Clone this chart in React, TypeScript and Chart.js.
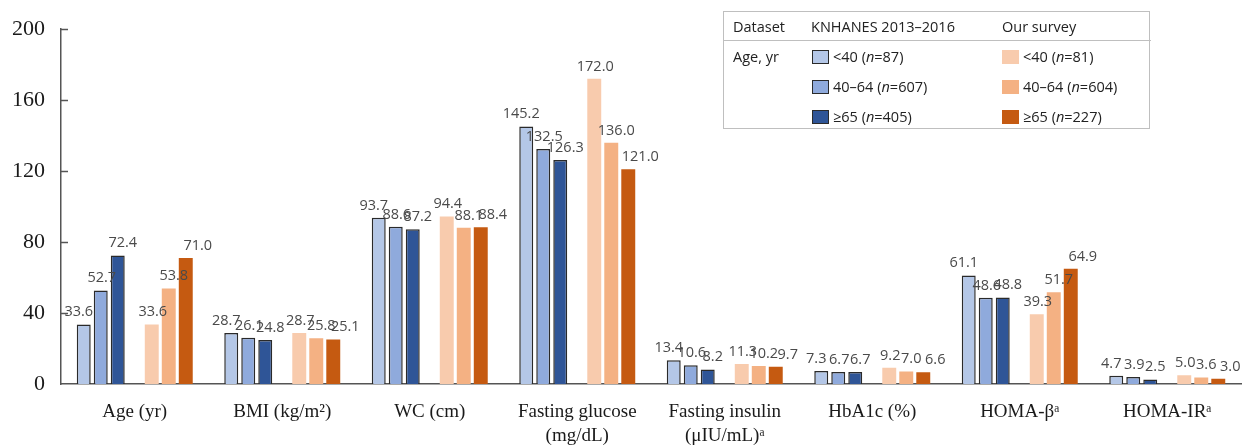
import React, { useEffect, useRef } from "react";
import { Chart, registerables } from "chart.js";

Chart.register(...registerables);

const categories: (string | string[])[] = [
  "Age (yr)",
  "BMI (kg/m²)",
  "WC (cm)",
  ["Fasting glucose", "(mg/dL)"],
  ["Fasting insulin", "(μIU/mL)ᵃ"],
  "HbA1c (%)",
  "HOMA-βᵃ",
  "HOMA-IRᵃ",
];

const knhanesUnder40 = [33.6, 28.7, 93.7, 145.2, 13.4, 7.3, 61.1, 4.7];
const knhanes40to64 = [52.7, 26.1, 88.6, 132.5, 10.6, 6.7, 48.6, 3.9];
const knhanes65plus = [72.4, 24.8, 87.2, 126.3, 8.2, 6.7, 48.8, 2.5];
const surveyUnder40 = [33.6, 28.7, 94.4, 172.0, 11.3, 9.2, 39.3, 5.0];
const survey40to64 = [53.8, 25.8, 88.1, 136.0, 10.2, 7.0, 51.7, 3.6];
const survey65plus = [71.0, 25.1, 88.4, 121.0, 9.7, 6.6, 64.9, 3.0];

const yTicks = [0, 40, 80, 120, 160, 200];

const blueColors = ["#B4C7E7", "#8FAADC", "#2F5597"];
const orangeColors = ["#F8CBAD", "#F4B183", "#C55A11"];

const knhanesLegend = [
  { range: "<40", n: "87" },
  { range: "40–64", n: "607" },
  { range: "≥65", n: "405" },
];
const surveyLegend = [
  { range: "<40", n: "81" },
  { range: "40–64", n: "604" },
  { range: "≥65", n: "227" },
];

const SANS = "'Open Sans', 'Noto Sans', sans-serif";
const SERIF = "'Liberation Serif', 'DejaVu Serif', serif";

const labelPlugin = {
  id: "barValueLabels",
  afterDatasetsDraw(chart: any) {
    const ctx = chart.ctx;
    ctx.save();
    ctx.font = `14.5px ${SANS}`;
    ctx.fillStyle = "#4a4a4a";
    ctx.textAlign = "center";
    ctx.textBaseline = "bottom";
    chart.data.datasets.forEach((ds: any, di: number) => {
      if (ds.spacer) return;
      const meta = chart.getDatasetMeta(di);
      const dx = ds.labelShift || 0;
      meta.data.forEach((el: any, i: number) => {
        const v = ds.data[i];
        if (v == null) return;
        ctx.fillText(Number(v).toFixed(1), el.x + dx, el.y - 5);
      });
    });
    ctx.restore();
  },
};

const innerTicksPlugin = {
  id: "innerTicks",
  afterDraw(chart: any) {
    const ctx = chart.ctx;
    const y = chart.scales.y;
    const left = chart.chartArea.left;
    ctx.save();
    ctx.strokeStyle = "#555555";
    ctx.lineWidth = 1.5;
    yTicks.forEach((t) => {
      if (t === 0) return;
      const py = Math.round(y.getPixelForValue(t)) + 0.5;
      ctx.beginPath();
      ctx.moveTo(left, py);
      ctx.lineTo(left + 7, py);
      ctx.stroke();
    });
    ctx.restore();
  },
};

export default function App() {
  const canvasRef = useRef<HTMLCanvasElement | null>(null);

  useEffect(() => {
    document.body.style.margin = "0";
    const canvas = canvasRef.current;
    if (!canvas) return;
    const mk = (data: (number | null)[], bg: string, blue: boolean, shift: number) => ({
      label: "",
      data,
      backgroundColor: bg,
      borderColor: blue ? "#2a2a2a" : bg,
      borderWidth: blue ? 1.5 : 0,
      categoryPercentage: 0.807,
      barPercentage: 0.82,
      labelShift: shift,
    });
    const chart = new Chart(canvas, {
      type: "bar",
      data: {
        labels: categories,
        datasets: [
          mk(knhanesUnder40, blueColors[0], true, -5),
          mk(knhanes40to64, blueColors[1], true, 1),
          mk(knhanes65plus, blueColors[2], true, 5),
          { ...mk(categories.map(() => null), "rgba(0,0,0,0)", false, 0), spacer: true } as any,
          mk(surveyUnder40, orangeColors[0], false, 1),
          mk(survey40to64, orangeColors[1], false, 5),
          mk(survey65plus, orangeColors[2], false, 12),
        ] as any,
      },
      options: {
        responsive: false,
        animation: false,
        layout: { padding: { top: 29, right: 1, left: 0, bottom: 0 } },
        plugins: {
          legend: { display: false },
          tooltip: { enabled: false },
          title: { display: false },
        },
        scales: {
          x: {
            grid: { display: false, drawTicks: false },
            border: { display: true, color: "#555555", width: 1.5 },
            ticks: {
              color: "#1a1a1a",
              font: { family: SERIF, size: 19, lineHeight: 1.25 },
              padding: 16,
              maxRotation: 0,
              autoSkip: false,
            },
            afterFit: (s: any) => {
              s.height = 62;
            },
          },
          y: {
            min: 0,
            max: 200,
            grid: { display: false, drawTicks: false },
            border: { display: true, color: "#555555", width: 1.5 },
            afterBuildTicks: (s: any) => {
              s.ticks = yTicks.map((v) => ({ value: v }));
            },
            ticks: {
              color: "#1a1a1a",
              font: { family: SERIF, size: 22 },
              padding: 16,
            },
            afterFit: (s: any) => {
              s.width = 61;
            },
          },
        },
      },
      plugins: [labelPlugin, innerTicksPlugin],
    });
    return () => chart.destroy();
  }, []);

  const swatch = (color: string, blue: boolean): React.CSSProperties => ({
    position: "absolute",
    width: blue ? 15 : 17,
    height: blue ? 12 : 14,
    background: color,
    border: blue ? "1.5px solid #2a2a2a" : "none",
  });

  const textStyle: React.CSSProperties = {
    position: "absolute",
    fontFamily: SANS,
    fontSize: 14.5,
    color: "#222222",
    whiteSpace: "nowrap",
    lineHeight: "18px",
  };

  const rowY = [48, 78, 108];

  return (
    <div style={{ position: "relative", width: 1242, height: 446, background: "#ffffff" }}>
      <canvas ref={canvasRef} width={1242} height={446} style={{ display: "block" }} />
      <div
        style={{
          position: "absolute",
          left: 723,
          top: 11,
          width: 425,
          height: 116,
          border: "1.5px solid #bfbfbf",
          background: "#ffffff",
        }}
      />
      <div style={{ position: "absolute", left: 723, top: 40, width: 428, height: 0, borderTop: "1.5px solid #bfbfbf" }} />
      <div style={{ ...textStyle, left: 733, top: 18 }}>Dataset</div>
      <div style={{ ...textStyle, left: 811, top: 18 }}>KNHANES 2013–2016</div>
      <div style={{ ...textStyle, left: 1002, top: 18 }}>Our survey</div>
      <div style={{ ...textStyle, left: 733, top: rowY[0] }}>Age, yr</div>
      {knhanesLegend.map((it, i) => (
        <React.Fragment key={"k" + i}>
          <div style={{ ...swatch(blueColors[i], true), left: 812, top: rowY[i] + 2 }} />
          <div style={{ ...textStyle, left: 833, top: rowY[i] }}>
            {it.range} (<i>n</i>={it.n})
          </div>
        </React.Fragment>
      ))}
      {surveyLegend.map((it, i) => (
        <React.Fragment key={"s" + i}>
          <div style={{ ...swatch(orangeColors[i], false), left: 1002, top: rowY[i] + 2 }} />
          <div style={{ ...textStyle, left: 1023, top: rowY[i] }}>
            {it.range} (<i>n</i>={it.n})
          </div>
        </React.Fragment>
      ))}
    </div>
  );
}
